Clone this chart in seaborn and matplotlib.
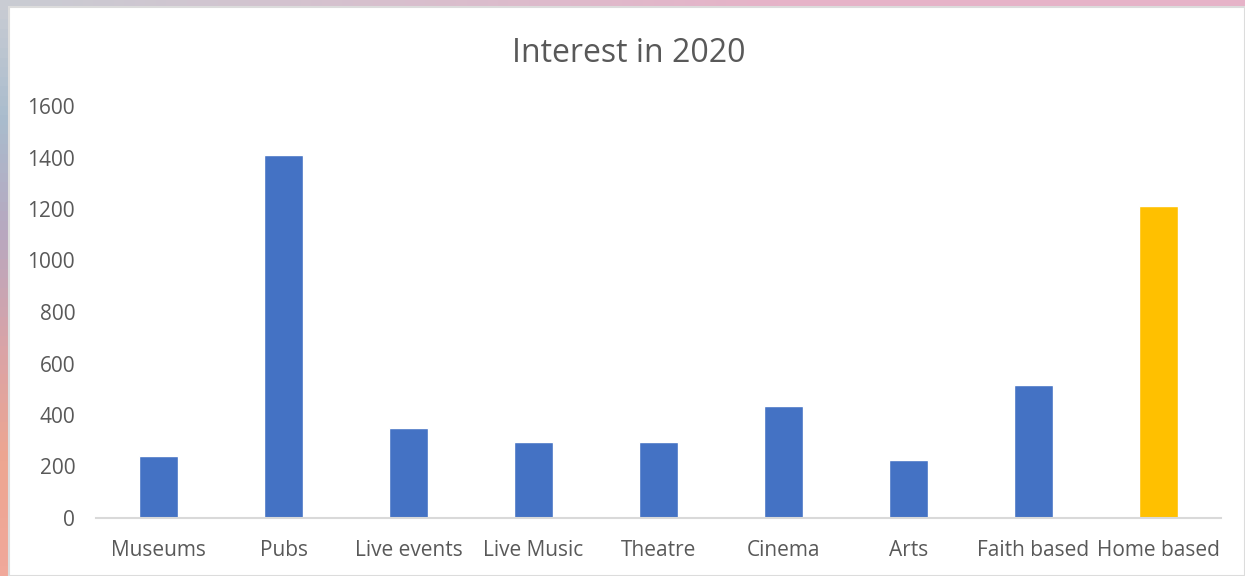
import numpy as np
import pandas as pd
import matplotlib
matplotlib.use("Agg")
import matplotlib.pyplot as plt
from matplotlib.colors import LinearSegmentedColormap
from matplotlib.patches import Rectangle
import seaborn as sns

# Chart data
categories = ["Museums", "Pubs", "Live events", "Live Music", "Theatre",
              "Cinema", "Arts", "Faith based", "Home based"]
interest = [240, 1410, 350, 295, 295, 435, 225, 516, 1212]
highlight = "Home based"
y_ticks = [0, 200, 400, 600, 800, 1000, 1200, 1400, 1600]

BLUE = "#4472C4"
GOLD = "#FFC000"
TEXT = "#595959"
AXIS = "#D9D9D9"

sns.set_theme(style="white")
plt.rcParams["font.family"] = ["Open Sans", "DejaVu Sans"]

W, H = 1245, 576
fig = plt.figure(figsize=(W / 100, H / 100), dpi=100)

# Soft coloured backdrop behind the white chart panel
bg = fig.add_axes([0, 0, 1, 1], zorder=-10)
bg.set_axis_off()
ny, nx = 60, 120
yy, xx = np.mgrid[0:1:complex(0, ny), 0:1:complex(0, nx)]
left_cmap = LinearSegmentedColormap.from_list(
    "edge", ["#c9ccd3", "#a9bccd", "#b7a8c0", "#d9a3a8", "#eda691", "#f0a89a"])
img = left_cmap(yy)
top_tint = np.array(matplotlib.colors.to_rgba("#e6b3c8"))
w = np.clip(xx * 1.6, 0, 1)[..., None]
img = img * (1 - w) + top_tint * w
bg.imshow(img, aspect="auto", extent=[0, 1, 0, 1], origin="upper")
bg.set_xlim(0, 1)
bg.set_ylim(0, 1)
bg.add_patch(Rectangle((9 / W, 0), 1 - 9 / W, 1 - 7 / H, facecolor="white",
                       edgecolor="#dcdcdc", linewidth=1.5, zorder=5))

df = pd.DataFrame({"category": categories, "interest": interest})
palette = {c: (GOLD if c == highlight else BLUE) for c in categories}

ax = fig.add_axes([96 / W, (H - 518) / H, (1221 - 96) / W, (518 - 106) / H])
ax.set_facecolor("none")
sns.barplot(data=df, x="category", y="interest", hue="category",
            palette=palette, order=categories, width=0.31,
            legend=False, saturation=1, ax=ax)

ax.set_xlim(-0.5, len(categories) - 0.5)
ax.set_ylim(0, 1600)
ax.set_yticks(y_ticks)
ax.set_yticklabels([str(v) for v in y_ticks])
ax.set_xlabel("")
ax.set_ylabel("")
for s in ("top", "right", "left"):
    ax.spines[s].set_visible(False)
ax.spines["bottom"].set_color(AXIS)
ax.spines["bottom"].set_linewidth(1.5)
ax.tick_params(axis="both", length=0, labelsize=15, labelcolor=TEXT)
ax.tick_params(axis="y", pad=15)
ax.tick_params(axis="x", pad=15.5)

fig.text(629 / W, 1 - 53 / H, "Interest in 2020", ha="center", va="center",
         fontsize=23, color=TEXT)

fig.savefig("out.png", dpi=100)
